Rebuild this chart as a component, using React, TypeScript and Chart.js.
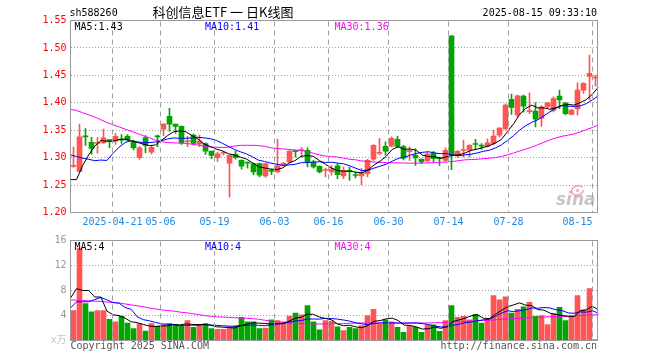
import React, { useEffect, useRef } from 'react';
import { Chart, registerables } from 'chart.js';

Chart.register(...registerables);

const stockCode = 'sh588260';
const chartTitle = '科创信息ETF 一 日K线图';
const timeStamp = '2025-08-15 09:33:10';
const copyrightText = 'Copyright 2025 SINA.COM';
const siteText = 'http://finance.sina.com.cn';
const year = '2025';

const days = [
  '04-10', '04-11', '04-14', '04-15', '04-16', '04-17', '04-18', '04-21', '04-22', '04-23',
  '04-24', '04-25', '04-28', '04-29', '04-30', '05-06', '05-07', '05-08', '05-09', '05-12',
  '05-13', '05-14', '05-15', '05-16', '05-19', '05-20', '05-21', '05-22', '05-23', '05-26',
  '05-27', '05-28', '05-29', '05-30', '06-03', '06-04', '06-05', '06-06', '06-09', '06-10',
  '06-11', '06-12', '06-13', '06-16', '06-17', '06-18', '06-19', '06-20', '06-23', '06-24',
  '06-25', '06-26', '06-27', '06-30', '07-01', '07-02', '07-03', '07-04', '07-07', '07-08',
  '07-09', '07-10', '07-11', '07-14', '07-15', '07-16', '07-17', '07-18', '07-21', '07-22',
  '07-23', '07-24', '07-25', '07-28', '07-29', '07-30', '07-31', '08-01', '08-04', '08-05',
  '08-06', '08-07', '08-08', '08-11', '08-12', '08-13', '08-14', '08-15',
];

const tickDays = ['04-21', '05-06', '05-19', '06-03', '06-16', '06-30', '07-14', '07-28', '08-15'];

const opens = [
  1.284, 1.275, 1.339, 1.328, 1.326, 1.327, 1.332, 1.330, 1.334, 1.339,
  1.3285, 1.300, 1.3365, 1.310, 1.339, 1.352, 1.3755, 1.361, 1.357, 1.329,
  1.341, 1.325, 1.3255, 1.312, 1.300, 1.308, 1.290, 1.306, 1.295, 1.291,
  1.289, 1.289, 1.2665, 1.276, 1.274, 1.286, 1.292, 1.312, 1.313, 1.3134,
  1.292, 1.284, 1.2765, 1.274, 1.285, 1.2665, 1.2755, 1.268, 1.2665, 1.271,
  1.297, 1.308, 1.3205, 1.321, 1.3335, 1.320, 1.311, 1.304, 1.297, 1.294,
  1.309, 1.2985, 1.295, 1.522, 1.303, 1.313, 1.3135, 1.325, 1.3215, 1.321,
  1.3255, 1.341, 1.353, 1.4065, 1.378, 1.412, 1.384, 1.385, 1.3715, 1.393,
  1.3865, 1.412, 1.400, 1.379, 1.389, 1.423, 1.448, 1.445,
];

const highs = [
  1.3195, 1.361, 1.353, 1.337, 1.337, 1.352, 1.3325, 1.344, 1.342, 1.342,
  1.332, 1.320, 1.340, 1.321, 1.341, 1.362, 1.390, 1.361, 1.358, 1.339,
  1.343, 1.341, 1.327, 1.312, 1.310, 1.311, 1.305, 1.312, 1.296, 1.292,
  1.290, 1.290, 1.290, 1.279, 1.3335, 1.291, 1.313, 1.3135, 1.319, 1.318,
  1.295, 1.285, 1.281, 1.286, 1.289, 1.283, 1.283, 1.274, 1.280, 1.297,
  1.324, 1.335, 1.329, 1.338, 1.339, 1.3225, 1.3195, 1.3165, 1.298, 1.310,
  1.3115, 1.301, 1.318, 1.522, 1.3135, 1.332, 1.324, 1.3335, 1.3255, 1.3345,
  1.350, 1.355, 1.398, 1.416, 1.414, 1.414, 1.418, 1.4005, 1.395, 1.401,
  1.411, 1.423, 1.401, 1.388, 1.4365, 1.437, 1.487, 1.4505,
];

const lows = [
  1.282, 1.274, 1.3225, 1.306, 1.308, 1.326, 1.318, 1.324, 1.326, 1.330,
  1.314, 1.297, 1.309, 1.307, 1.320, 1.340, 1.348, 1.344, 1.324, 1.320,
  1.323, 1.320, 1.306, 1.298, 1.293, 1.305, 1.228, 1.297, 1.279, 1.281,
  1.269, 1.265, 1.264, 1.269, 1.2725, 1.285, 1.291, 1.301, 1.301, 1.283,
  1.281, 1.272, 1.265, 1.268, 1.2615, 1.2615, 1.2585, 1.263, 1.2505, 1.265,
  1.295, 1.3055, 1.3045, 1.3195, 1.318, 1.296, 1.295, 1.286, 1.289, 1.292,
  1.292, 1.286, 1.293, 1.278, 1.301, 1.301, 1.301, 1.3165, 1.315, 1.3195,
  1.3235, 1.338, 1.350, 1.379, 1.374, 1.383, 1.380, 1.356, 1.357, 1.390,
  1.3835, 1.3895, 1.378, 1.378, 1.3775, 1.417, 1.405, 1.4305,
];

const closes = [
  1.285, 1.338, 1.338, 1.317, 1.327, 1.336, 1.331, 1.339, 1.332, 1.332,
  1.318, 1.318, 1.3225, 1.319, 1.338, 1.361, 1.361, 1.357, 1.327, 1.330,
  1.326, 1.330, 1.312, 1.304, 1.307, 1.309, 1.304, 1.300, 1.2845, 1.290,
  1.274, 1.268, 1.289, 1.275, 1.285, 1.290, 1.312, 1.311, 1.314, 1.292,
  1.283, 1.274, 1.277, 1.279, 1.269, 1.277, 1.275, 1.2675, 1.2725, 1.295,
  1.3225, 1.309, 1.312, 1.335, 1.3205, 1.299, 1.312, 1.2995, 1.292, 1.307,
  1.298, 1.298, 1.3135, 1.305, 1.3115, 1.314, 1.3225, 1.324, 1.321, 1.327,
  1.3395, 1.354, 1.3957, 1.3915, 1.4125, 1.394, 1.385, 1.370, 1.3925, 1.400,
  1.4075, 1.405, 1.380, 1.3865, 1.423, 1.4355, 1.4535, 1.446,
];

// volume in 万 (10k) units
const volumes = [
  4.8, 14.7, 5.9, 4.6, 4.8, 4.8, 3.4, 3.0, 3.9, 2.8,
  1.9, 2.7, 1.5, 2.7, 2.3, 2.5, 2.7, 2.6, 2.3, 3.2,
  2.1, 2.5, 2.7, 1.9, 1.8, 1.8, 2.2, 2.3, 3.7, 3.0,
  3.0, 1.9, 2.0, 3.3, 3.2, 3.0, 3.9, 4.4, 4.1, 5.6,
  3.0, 1.7, 3.2, 3.1, 2.2, 1.6, 2.1, 1.9, 2.4, 4.0,
  5.0, 2.6, 3.3, 3.0, 2.1, 1.3, 2.35, 2.1, 1.3, 2.45,
  2.5, 1.45, 3.2, 5.6, 3.7, 3.85, 3.3, 4.2, 2.8, 3.4,
  7.2, 6.5, 7.0, 4.4, 5.0, 5.4, 6.1, 3.85, 4.0, 2.56,
  4.3, 5.3, 3.2, 3.85, 7.2, 4.9, 8.3, 0.16,
];

// sessions before the visible window (needed for the first moving-average values)
const closesBefore = [1.368, 1.368, 1.337, 1.352, 1.325, 1.338, 1.21, 1.22, 1.247];
const volumesBefore = [4.7, 5.9, 4.6, 1.4, 1.4, 7.2, 7.4, 4.6, 10.0];

const priceMA30 = [
  1.388, 1.386, 1.382, 1.378, 1.374, 1.369, 1.364, 1.360, 1.356, 1.352,
  1.348, 1.344, 1.340, 1.336, 1.332, 1.329, 1.3275, 1.327, 1.3265, 1.326,
  1.3245, 1.323, 1.321, 1.3195, 1.319, 1.3185, 1.319, 1.321, 1.3225, 1.3225,
  1.3225, 1.322, 1.3205, 1.318, 1.3165, 1.316, 1.315, 1.314, 1.313, 1.311,
  1.308, 1.305, 1.303, 1.302, 1.301, 1.299, 1.297, 1.296, 1.294, 1.293,
  1.292, 1.2915, 1.291, 1.2905, 1.2905, 1.290, 1.290, 1.290, 1.290, 1.2905,
  1.291, 1.2915, 1.292, 1.293, 1.2945, 1.296, 1.2965, 1.297, 1.298, 1.299,
  1.300, 1.302, 1.305, 1.3085, 1.312, 1.3155, 1.319, 1.3235, 1.328, 1.3325,
  1.336, 1.339, 1.341, 1.3435, 1.347, 1.351, 1.355, 1.3595,
];

const volumeMA30 = [
  6.5, 6.45, 6.4, 6.35, 6.3, 6.25, 6.15, 6.1, 6.0, 5.85,
  5.7, 5.55, 5.4, 5.2, 5.05, 4.9, 4.8, 4.7, 4.55, 4.45,
  4.3, 4.15, 4.0, 3.9, 3.8, 3.75, 3.7, 3.65, 3.6, 3.55,
  3.5, 3.4, 3.25, 3.1, 3.0, 2.9, 2.8, 2.75, 2.7, 2.7,
  2.65, 2.65, 2.65, 2.7, 2.7, 2.7, 2.75, 2.75, 2.8, 2.8,
  2.8, 2.8, 2.8, 2.8, 2.8, 2.8, 2.8, 2.8, 2.8, 2.8,
  2.85, 2.85, 2.9, 2.95, 3.0, 3.05, 3.1, 3.15, 3.2, 3.25,
  3.3, 3.4, 3.45, 3.5, 3.55, 3.6, 3.65, 3.7, 3.75, 3.8,
  3.8, 3.85, 3.9, 3.95, 4.0, 4.05, 4.1, 4.15,
];

const priceMin = 1.2;
const priceMax = 1.55;
const priceStep = 0.05;
const volumeMin = 0;
const volumeMax = 16;
const volumeStep = 4;
const volumeUnit = 'x万';

const UP = '#ff5555';
const DOWN = '#00a600';
const GRID = '#a0a0a0';
const FRAME = '#999999';
const MA5_COLOR = '#000000';
const MA10_COLOR = '#0000ff';
const MA30_COLOR = '#ff00ff';
const MONO = '"DejaVu Sans Mono", "Noto Sans CJK SC", monospace';

function movingAverage(values: number[], before: number[], n: number): number[] {
  const all = before.concat(values);
  return values.map((_, i) => {
    const end = before.length + i;
    let s = 0;
    for (let k = end - n + 1; k <= end; k++) s += all[k];
    return s / n;
  });
}

// each session owns one unit of the x axis: candles and volume bars sit in the
// middle of it; the moving-average polylines run from the left edge of the
// plot (first session) to its right edge (last session)
const lineStretch = days.length / (days.length - 1);
const linePoints = (arr: number[]) => arr.map((y, i) => ({ x: i * lineStretch, y }));
const barPoints = (arr: any[]) => arr.map((y, i) => ({ x: i + 0.5, y }));

const candleColors = closes.map((c, i) => (c >= opens[i] ? UP : DOWN));
const tickIndices = tickDays.map((d) => days.indexOf(d));

function tickText(i: number): string {
  const k = tickIndices.indexOf(i);
  if (k < 0) return '';
  if (k === 0) return `${year}-${days[i]}`;
  if (k === tickDays.length - 1) return days[i] + '     ';
  return days[i];
}

function lineSet(data: number[], color: string, order: number) {
  return {
    type: 'line' as const,
    data: linePoints(data),
    borderColor: color,
    borderWidth: 1,
    pointRadius: 0,
    tension: 0,
    fill: false,
    xAxisID: 'x',
    yAxisID: 'y',
    order,
  };
}

function xScale(showTicks: boolean, height: number) {
  return {
    type: 'linear',
    min: 0,
    max: days.length,
    offset: false,
    grid: { display: false, offset: false, drawTicks: false },
    border: { display: false },
    afterBuildTicks: (s: any) => {
      s.ticks = tickIndices.map((v) => ({ value: v }));
    },
    ticks: {
      display: showTicks,
      autoSkip: false,
      maxRotation: 0,
      minRotation: 0,
      padding: 4,
      color: '#1e88e5',
      font: { family: MONO, size: 10 },
      callback: (v: any) => tickText(Number(v)),
    },
    afterFit: (s: any) => {
      s.height = height;
    },
  };
}

// dashed vertical grid lines at the labelled sessions, placed by the x scale
function drawDateGrid(chart: any) {
  const ctx: CanvasRenderingContext2D = chart.ctx;
  const a = chart.chartArea;
  const sx = chart.scales.x;
  ctx.save();
  ctx.strokeStyle = GRID;
  ctx.lineWidth = 1;
  ctx.setLineDash([5, 4]);
  for (const i of tickIndices) {
    const px = Math.round(sx.getPixelForValue(i) - 0.5) + 0.5;
    ctx.beginPath();
    ctx.moveTo(px, a.top + 1);
    ctx.lineTo(px, a.bottom);
    ctx.stroke();
  }
  ctx.restore();
}

function drawFrame(chart: any) {
  const { ctx, chartArea: a } = chart;
  ctx.save();
  ctx.strokeStyle = FRAME;
  ctx.lineWidth = 1;
  ctx.setLineDash([]);
  ctx.strokeRect(a.left, a.top, a.right - a.left - 1, a.bottom - a.top);
  ctx.restore();
}

function drawLegend(chart: any, items: [string, string][]) {
  const { ctx, chartArea: a } = chart;
  const xs = [a.left + 4, a.left + 134.5, a.left + 264];
  ctx.save();
  ctx.font = `10px ${MONO}`;
  ctx.textBaseline = 'middle';
  ctx.textAlign = 'left';
  items.forEach(([text, color], k) => {
    ctx.fillStyle = color;
    ctx.fillText(text, xs[k], a.top + 6.5);
  });
  ctx.restore();
}

export default function App() {
  const priceRef = useRef<HTMLCanvasElement>(null);
  const volRef = useRef<HTMLCanvasElement>(null);

  useEffect(() => {
    const ma5 = movingAverage(closes, closesBefore.slice(-4), 5);
    const ma10 = movingAverage(closes, closesBefore, 10);
    const vma5 = movingAverage(volumes, volumesBefore.slice(-4), 5);
    const vma10 = movingAverage(volumes, volumesBefore, 10);
    const last = days.length - 1;

    const pricePlugin = {
      id: 'priceDecor',
      beforeDatasetsDraw(chart: any) {
        const { ctx, chartArea: a } = chart;
        ctx.save();
        ctx.strokeStyle = 'rgba(238,120,120,0.55)';
        ctx.lineWidth = 2;
        ctx.beginPath();
        ctx.ellipse(a.right - 21, a.bottom - 22, 6, 4.5, -0.3, 0.3, Math.PI * 1.9);
        ctx.stroke();
        ctx.fillStyle = 'rgba(238,120,120,0.55)';
        ctx.beginPath();
        ctx.arc(a.right - 21, a.bottom - 22, 1.8, 0, Math.PI * 2);
        ctx.fill();
        ctx.font = 'italic bold 17px "DejaVu Sans", sans-serif';
        ctx.fillStyle = 'rgba(150,150,150,0.55)';
        ctx.textAlign = 'right';
        ctx.textBaseline = 'alphabetic';
        ctx.fillText('sina', a.right - 3, a.bottom - 7.5);
        ctx.restore();
      },
      afterDraw(chart: any) {
        const { ctx } = chart;
        drawDateGrid(chart);
        ctx.save();
        ctx.fillStyle = '#000';
        ctx.textBaseline = 'middle';
        ctx.font = `10px ${MONO}`;
        ctx.textAlign = 'left';
        ctx.fillText(stockCode, 69.5, 13.3);
        ctx.textAlign = 'right';
        ctx.fillText(timeStamp, 597, 13.3);
        ctx.font = '13px "Noto Sans CJK SC", sans-serif';
        ctx.textAlign = 'center';
        ctx.fillText(chartTitle, 223, 12.5);
        ctx.restore();
        drawLegend(chart, [
          [`MA5:${ma5[last].toFixed(2)}`, MA5_COLOR],
          [`MA10:${ma10[last].toFixed(2)}`, MA10_COLOR],
          [`MA30:${priceMA30[last].toFixed(2)}`, MA30_COLOR],
        ]);
        drawFrame(chart);
      },
    };

    const volumePlugin = {
      id: 'volumeDecor',
      afterDraw(chart: any) {
        const { ctx, chartArea: a } = chart;
        drawDateGrid(chart);
        drawLegend(chart, [
          [`MA5:${Math.floor(vma5[last])}`, MA5_COLOR],
          [`MA10:${Math.floor(vma10[last])}`, MA10_COLOR],
          [`MA30:${Math.floor(volumeMA30[last])}`, MA30_COLOR],
        ]);
        ctx.save();
        ctx.font = `10px ${MONO}`;
        ctx.fillStyle = '#555';
        ctx.textBaseline = 'middle';
        ctx.textAlign = 'left';
        ctx.fillText(copyrightText, a.left, a.bottom + 6);
        ctx.textAlign = 'right';
        ctx.fillText(siteText, 597, a.bottom + 6);
        ctx.restore();
        drawFrame(chart);
      },
    };

    const c1 = new Chart(priceRef.current as HTMLCanvasElement, {
      type: 'bar',
      data: {
        datasets: [
          lineSet(ma5, MA5_COLOR, 0.1),
          lineSet(ma10, MA10_COLOR, 0.2),
          lineSet(priceMA30, MA30_COLOR, 0.3),
          {
            type: 'bar',
            data: barPoints(opens.map((o, i) => [o, closes[i]])),
            backgroundColor: candleColors,
            barThickness: 5,
            minBarLength: 1,
            grouped: false,
            xAxisID: 'x',
            yAxisID: 'y',
            order: 1,
          },
          {
            type: 'bar',
            data: barPoints(lows.map((l, i) => [l, highs[i]])),
            backgroundColor: candleColors,
            barThickness: 1,
            minBarLength: 1,
            grouped: false,
            xAxisID: 'x',
            yAxisID: 'y',
            order: 2,
          },
        ] as any,
      },
      options: {
        animation: false,
        responsive: false,
        maintainAspectRatio: false,
        events: [],
        layout: { padding: { left: 0, right: 61.5, top: 20.5, bottom: 0 } },
        plugins: { legend: { display: false }, tooltip: { enabled: false } },
        scales: {
          x: xScale(true, 17.5),
          y: {
            min: priceMin,
            max: priceMax,
            grid: { drawTicks: false, color: GRID, lineWidth: 1 },
            border: { display: false, dash: [1, 2] },
            ticks: {
              stepSize: priceStep,
              padding: 4,
              color: '#ff0000',
              font: { family: MONO, size: 10 },
              callback: (v: any) => Number(v).toFixed(2),
            },
            afterFit: (s: any) => {
              s.width = 70.5;
            },
          },
        } as any,
      },
      plugins: [pricePlugin],
    });

    const c2 = new Chart(volRef.current as HTMLCanvasElement, {
      type: 'bar',
      data: {
        datasets: [
          lineSet(vma5, MA5_COLOR, 0.1),
          lineSet(vma10, MA10_COLOR, 0.2),
          lineSet(volumeMA30, MA30_COLOR, 0.3),
          {
            type: 'bar',
            data: barPoints(volumes),
            backgroundColor: candleColors,
            barThickness: 5,
            minBarLength: 1,
            grouped: false,
            xAxisID: 'x',
            yAxisID: 'y',
            order: 1,
          },
        ] as any,
      },
      options: {
        animation: false,
        responsive: false,
        maintainAspectRatio: false,
        events: [],
        layout: { padding: { left: 0, right: 61.5, top: 10.5, bottom: 0 } },
        plugins: { legend: { display: false }, tooltip: { enabled: false } },
        scales: {
          x: xScale(false, 19.5),
          y: {
            min: volumeMin,
            max: volumeMax,
            grid: { drawTicks: false, color: GRID, lineWidth: 1 },
            border: { display: false, dash: [1, 2] },
            ticks: {
              stepSize: volumeStep,
              padding: 4,
              color: (ctx: any) => (ctx.tick && ctx.tick.value === 0 ? '#c4c4c4' : '#999999'),
              font: { family: MONO, size: 10 },
              callback: (v: any) => (Number(v) === 0 ? volumeUnit : String(v)),
            },
            afterFit: (s: any) => {
              s.width = 70.5;
            },
          },
        } as any,
      },
      plugins: [volumePlugin],
    });

    return () => {
      c1.destroy();
      c2.destroy();
    };
  }, []);

  return (
    <div style={{ position: 'fixed', left: 0, top: 0, width: 660, height: 360, background: '#ffffff' }}>
      <canvas
        ref={priceRef}
        width={660}
        height={230}
        style={{ position: 'absolute', left: 0, top: 0, width: 660, height: 230, display: 'block' }}
      />
      <canvas
        ref={volRef}
        width={660}
        height={130}
        style={{ position: 'absolute', left: 0, top: 230, width: 660, height: 130, display: 'block' }}
      />
    </div>
  );
}
